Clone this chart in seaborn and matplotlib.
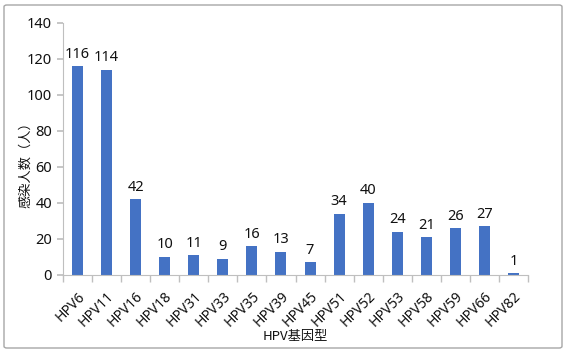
import matplotlib
matplotlib.use("Agg")
import matplotlib.pyplot as plt
import seaborn as sns
import pandas as pd
from matplotlib.patches import FancyBboxPatch

categories = ["HPV6", "HPV11", "HPV16", "HPV18", "HPV31", "HPV33", "HPV35", "HPV39",
              "HPV45", "HPV51", "HPV52", "HPV53", "HPV58", "HPV59", "HPV66", "HPV82"]
values = [116, 114, 42, 10, 11, 9, 16, 13, 7, 34, 40, 24, 21, 26, 27, 1]
yticks = [0, 20, 40, 60, 80, 100, 120, 140]

sns.set_theme(style="white")
plt.rcParams['font.family'] = ['Noto Sans', 'Noto Sans CJK SC', 'DejaVu Sans']

df = pd.DataFrame({"cat": categories, "val": values})
fig = plt.figure(figsize=(5.67, 3.52), dpi=100)
ax = fig.add_axes([63/567, 1-275/352, (528-63)/567, (275-23)/352])

sns.barplot(data=df, x="cat", y="val", color="#4472C4", width=0.38, ax=ax,
            saturation=1, edgecolor="none")

for i, v in enumerate(values):
    ax.text(i, v + 2.5, str(v), ha="center", va="bottom", fontsize=10.5, color="#111111")

ax.set_ylim(0, 140)
ax.set_yticks(yticks)
ax.set_xlim(-0.5, len(categories) - 0.5)
ax.set_xticks(range(len(categories)))
ax.set_xticklabels(categories, rotation=45, ha="right", rotation_mode="anchor", fontsize=10)
ax.tick_params(axis="y", labelsize=10.5, left=True, length=4, color="#BFBFBF", pad=4)
ax.tick_params(axis="x", bottom=False, pad=4)
ax.set_xticks([i - 0.5 for i in range(len(categories) + 1)], minor=True)
ax.tick_params(axis="x", which="minor", bottom=True, length=5, color="#BFBFBF")
for t in ax.get_yticklabels() + ax.get_xticklabels():
    t.set_color("#111111")

for s in ["top", "right"]:
    ax.spines[s].set_visible(False)
for s in ["left", "bottom"]:
    ax.spines[s].set_color("#BFBFBF")
    ax.spines[s].set_linewidth(0.8)

ax.set_xlabel("HPV基因型", fontsize=9.5, color="#111111", labelpad=0,
              family=['Noto Sans CJK SC', 'DejaVu Sans'])
ax.set_ylabel("感染人数（人）", fontsize=9.5, color="#111111",
              family=['Noto Sans CJK SC', 'DejaVu Sans'])
ax.yaxis.set_label_coords(-0.067, 0.45)

border = FancyBboxPatch((4/567, 4/352), 1 - 9/567, 1 - 9/352,
                        boxstyle="round,pad=0,rounding_size=0.005",
                        transform=fig.transFigure, fill=False, edgecolor="#A6A6A6", linewidth=1)
fig.patches.append(border)

fig.savefig("out.png", dpi=100)
